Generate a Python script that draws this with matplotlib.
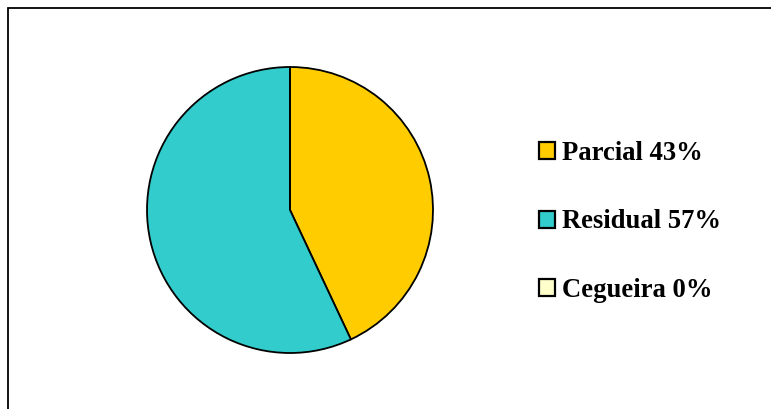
import matplotlib.pyplot as plt
from matplotlib.patches import Rectangle

labels = ["Parcial 43%", "Residual 57%", "Cegueira 0%"]
values = [43, 57, 0]
colors = ["#FFCC00", "#33CCCC", "#FFFFCC"]

W, H = 771, 409
fig = plt.figure(figsize=(W / 100, H / 100), dpi=100)
ax = fig.add_axes([0, 0, 1, 1])

# outer frame (runs off the right and bottom edges)
ax.add_patch(Rectangle((7.5, -20), W + 20, H - 7.5 + 20, fill=False,
                       edgecolor="black", linewidth=1.3))

wedges, _ = ax.pie(values, colors=colors, startangle=90, counterclock=False,
                   center=(290, H - 210), radius=143, frame=True,
                   wedgeprops=dict(edgecolor="black", linewidth=1.3))
ax.set_xlim(0, W)
ax.set_ylim(0, H)
ax.axis("off")

leg = ax.legend(wedges, labels, loc="center left",
                bbox_to_anchor=(539, H - 222), bbox_transform=ax.transData,
                frameon=False, borderpad=0, borderaxespad=0,
                labelspacing=1.62, handlelength=0.6, handleheight=0.6,
                handletextpad=0.28,
                prop=dict(family="Liberation Serif", weight="bold", size=19.2))
for h in leg.legend_handles:
    h.set_linewidth(1.6)

fig.savefig("out.png", dpi=100)
